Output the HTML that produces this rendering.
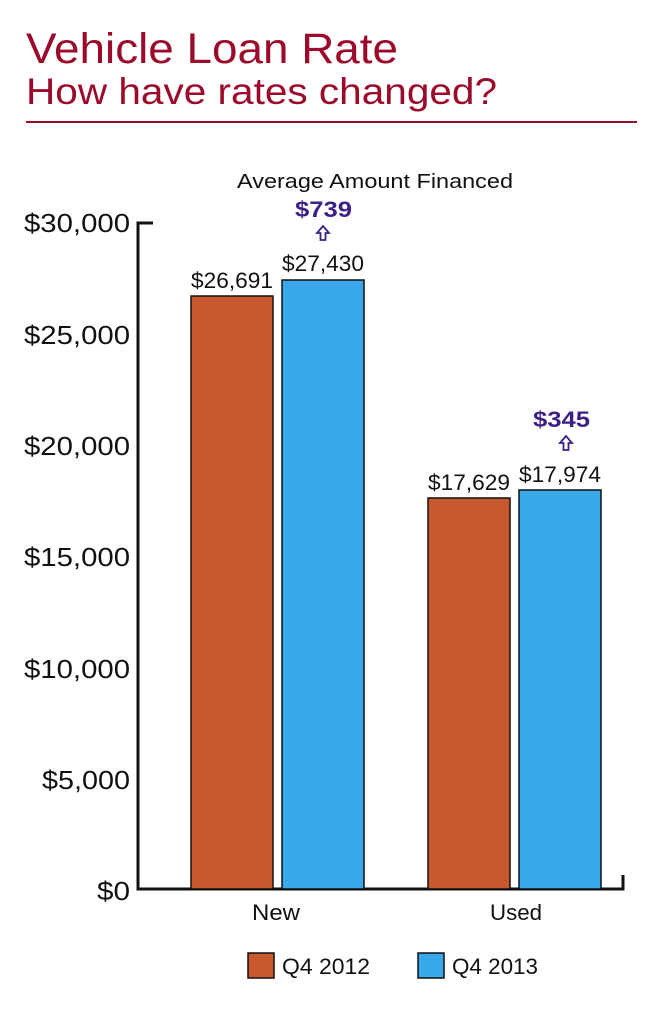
<!DOCTYPE html>
<html><head><style>body{margin:0;background:#fff}svg{display:block}</style></head><body>
<svg width="661" height="1009" xmlns="http://www.w3.org/2000/svg" font-family="'Liberation Sans',sans-serif">
<text x="26" y="63" font-size="43" fill="#9b0a2b" textLength="372" lengthAdjust="spacingAndGlyphs">Vehicle Loan Rate</text>
<text x="26" y="104" font-size="37" fill="#9b0a2b" textLength="471" lengthAdjust="spacingAndGlyphs">How have rates changed?</text>
<rect x="26" y="121" width="611" height="2" fill="#9b0a2b"/>
<text x="237" y="188" font-size="20" fill="#111" textLength="276" lengthAdjust="spacingAndGlyphs">Average Amount Financed</text>
<g font-size="26" fill="#111" text-anchor="end" lengthAdjust="spacingAndGlyphs">
<text x="130" y="232" textLength="106" lengthAdjust="spacingAndGlyphs">$30,000</text>
<text x="130" y="344" textLength="106" lengthAdjust="spacingAndGlyphs">$25,000</text>
<text x="130" y="455" textLength="106" lengthAdjust="spacingAndGlyphs">$20,000</text>
<text x="130" y="566" textLength="106" lengthAdjust="spacingAndGlyphs">$15,000</text>
<text x="130" y="678" textLength="106" lengthAdjust="spacingAndGlyphs">$10,000</text>
<text x="130" y="789" textLength="88" lengthAdjust="spacingAndGlyphs">$5,000</text>
<text x="130" y="900" textLength="33" lengthAdjust="spacingAndGlyphs">$0</text>
</g>
<path d="M153 223H138V889H623V875" fill="none" stroke="#111" stroke-width="3"/>
<g stroke="#111" stroke-width="1.5">
<rect x="191" y="296" width="82" height="593" fill="#c8582d"/>
<rect x="282" y="280" width="82" height="609" fill="#38a8e8"/>
<rect x="428" y="498" width="82" height="391" fill="#c8582d"/>
<rect x="519" y="490" width="82" height="399" fill="#38a8e8"/>
</g>
<g font-size="22" fill="#111">
<text x="191" y="288" textLength="82" lengthAdjust="spacingAndGlyphs">$26,691</text>
<text x="282" y="271" textLength="82" lengthAdjust="spacingAndGlyphs">$27,430</text>
<text x="428" y="490" textLength="82" lengthAdjust="spacingAndGlyphs">$17,629</text>
<text x="519" y="482" textLength="82" lengthAdjust="spacingAndGlyphs">$17,974</text>
<text x="252" y="920" textLength="48" lengthAdjust="spacingAndGlyphs">New</text>
<text x="490" y="920" textLength="52" lengthAdjust="spacingAndGlyphs">Used</text>
</g>
<g font-size="22" font-weight="bold" fill="#3d1f86">
<text x="295" y="217" textLength="57" lengthAdjust="spacingAndGlyphs">$739</text>
<text x="533" y="427" textLength="57" lengthAdjust="spacingAndGlyphs">$345</text>
</g>
<g fill="none" stroke="#3d1f86" stroke-width="1.8">
<path d="M323 226l-6 7h3.5v7h5v-7h3.5z"/>
<path d="M566 436l-6 7h3.5v7h5v-7h3.5z"/>
</g>
<rect x="248" y="953" width="26" height="25" fill="#c8582d" stroke="#111" stroke-width="1.5"/>
<text x="282" y="974" font-size="22" fill="#111" textLength="88" lengthAdjust="spacingAndGlyphs">Q4 2012</text>
<rect x="418" y="953" width="26" height="25" fill="#38a8e8" stroke="#111" stroke-width="1.5"/>
<text x="452" y="974" font-size="22" fill="#111" textLength="86" lengthAdjust="spacingAndGlyphs">Q4 2013</text>
</svg>
</body></html>
